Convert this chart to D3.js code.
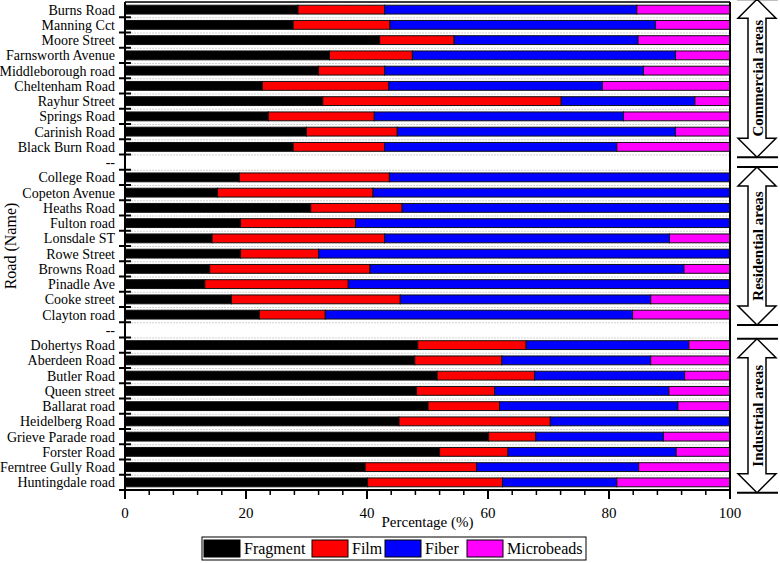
<!DOCTYPE html>
<html>
<head>
<meta charset="utf-8">
<script src="https://d3js.org/d3.v7.min.js"></script>
<style>
  body { margin: 0; background: #fff; }
  text { font-family: "Liberation Serif", "Times New Roman", serif; fill: #000; }
</style>
</head>
<body>
<div id="chart"></div>
<script>
// road names per area (top to bottom)
var commercialRoads = ["Burns Road", "Manning Cct", "Moore Street", "Farnsworth Avenue", "Middleborough road",
  "Cheltenham Road", "Rayhur Street", "Springs Road", "Carinish Road", "Black Burn Road"];
var residentialRoads = ["College Road", "Copeton Avenue", "Heaths Road", "Fulton road", "Lonsdale ST",
  "Rowe Street", "Browns Road", "Pinadle Ave", "Cooke street", "Clayton road"];
var industrialRoads = ["Dohertys Road", "Aberdeen Road", "Butler Road", "Queen street", "Ballarat road",
  "Heidelberg Road", "Grieve Parade road", "Forster Road", "Ferntree Gully Road", "Huntingdale road"];

var areaNames = ["Commercial areas", "Residential areas", "Industrial areas"];
var seriesNames = ["Fragment", "Film", "Fiber", "Microbeads"];
var seriesColors = ["#000000", "#ff0000", "#0000ff", "#ff00ff"];

// percentages, same order as the roads above (commercial, residential, industrial)
var fragment = [28.6, 27.8, 42.1, 33.8, 32.0, 22.7, 32.7, 23.7, 30.0, 27.8,
  18.9, 15.3, 30.7, 19.1, 14.4, 19.1, 14.0, 13.2, 17.6, 22.2,
  48.4, 47.9, 51.6, 48.2, 50.1, 45.3, 60.1, 52.0, 39.7, 40.1];
var film = [14.3, 16.0, 12.3, 13.7, 10.9, 20.9, 39.4, 17.5, 15.0, 15.1,
  24.8, 25.7, 15.1, 19.0, 28.5, 12.9, 26.5, 23.7, 27.9, 10.9,
  17.9, 14.4, 16.1, 12.9, 11.8, 25.0, 7.8, 11.3, 18.4, 22.3];
var fiber = [41.7, 43.9, 30.4, 43.5, 42.8, 35.3, 22.1, 41.2, 46.0, 38.4,
  56.3, 59.0, 54.2, 61.9, 47.1, 68.0, 51.9, 63.1, 41.4, 50.8,
  26.9, 24.6, 24.8, 28.8, 29.5, 29.7, 21.1, 27.8, 26.8, 18.9];
var microbeads = [15.4, 12.3, 15.2, 9.0, 14.3, 21.1, 5.8, 17.6, 9.0, 18.7,
  0, 0, 0, 0, 10.0, 0, 7.6, 0, 13.1, 16.1,
  6.8, 13.1, 7.5, 10.1, 8.6, 0, 11.0, 8.9, 15.1, 18.7];
var xTicks = [0, 20, 40, 60, 80, 100];

var W = 780, H = 563;
var margin = {top: 2, right: 50, bottom: 73, left: 125},
    width = W - margin.left - margin.right,
    height = H - margin.top - margin.bottom;

var svg = d3.select("#chart").append("svg")
    .attr("width", W)
    .attr("height", H);
var g = svg.append("g")
    .attr("transform", "translate(" + margin.left + "," + margin.top + ")");

// rows: the three areas separated by a "--" row
var rows = [];
var groups = [commercialRoads, residentialRoads, industrialRoads];
var k = 0;
groups.forEach(function(list, gi) {
  if (gi > 0) rows.push({key: "sep" + gi, label: "--", data: null});
  list.forEach(function(name) {
    rows.push({key: name, label: name, data: {
      Fragment: fragment[k], Film: film[k], Fiber: fiber[k], Microbeads: microbeads[k]}});
    k++;
  });
});

var x = d3.scaleLinear().domain([0, 100]).range([0, width]);
var y = d3.scaleBand().domain(rows.map(function(d) { return d.key; })).range([0, height]).paddingInner(0.42).paddingOuter(0.21);
var step = y.step();

// dashed light grid lines between rows
g.append("g")
  .selectAll("line")
  .data(d3.range(rows.length + 1))
  .enter().append("line")
    .attr("x1", 0).attr("x2", width)
    .attr("y1", function(i) { return i * step + 0.5; })
    .attr("y2", function(i) { return i * step + 0.5; })
    .attr("stroke", "#d0d0d0")
    .attr("stroke-dasharray", "2,1");

// stacked bars
var stack = d3.stack().keys(seriesNames);
var barRows = rows.filter(function(d) { return d.data; });
var stacked = stack(barRows.map(function(d) { return Object.assign({key: d.key}, d.data); }));

g.append("g").selectAll("g")
  .data(stacked)
  .enter().append("g")
    .attr("fill", function(d, i) { return seriesColors[i]; })
  .selectAll("rect")
  .data(function(d) { return d.filter(function(s) { return s[1] - s[0] > 0; }); })
  .enter().append("rect")
    .attr("x", function(d) { return x(d[0]); })
    .attr("width", function(d) { return x(d[1]) - x(d[0]); })
    .attr("y", function(d) { return y(d.data.key); })
    .attr("height", y.bandwidth())
    .attr("stroke", "#111")
    .attr("stroke-width", 1);

// frame: top and right
g.append("line").attr("x1", 0).attr("x2", width).attr("y1", 0).attr("y2", 0)
  .attr("stroke", "#000").attr("stroke-width", 1.5);
g.append("line").attr("x1", width).attr("x2", width).attr("y1", 0).attr("y2", height)
  .attr("stroke", "#000").attr("stroke-width", 2);

// x axis with minor ticks
var xAxisG = g.append("g").attr("transform", "translate(0," + height + ")");
xAxisG.append("line").attr("x1", 0).attr("x2", width).attr("stroke", "#000").attr("stroke-width", 2);
xAxisG.selectAll(".minor")
  .data(d3.range(0, 101, 4).filter(function(v) { return v % 20 !== 0; }))
  .enter().append("line")
    .attr("x1", function(v) { return x(v); }).attr("x2", function(v) { return x(v); })
    .attr("y1", 0).attr("y2", 5)
    .attr("stroke", "#000").attr("stroke-width", 1.5);
xAxisG.selectAll(".major")
  .data(xTicks)
  .enter().append("line")
    .attr("x1", function(v) { return x(v); }).attr("x2", function(v) { return x(v); })
    .attr("y1", 0).attr("y2", 9)
    .attr("stroke", "#000").attr("stroke-width", 2);
xAxisG.selectAll(".lbl")
  .data(xTicks)
  .enter().append("text")
    .attr("x", function(v) { return x(v); })
    .attr("y", 28)
    .attr("text-anchor", "middle")
    .style("font-size", "15px")
    .text(function(v) { return v; });

g.append("text")
  .attr("x", width / 2)
  .attr("y", height + 37)
  .attr("text-anchor", "middle")
  .style("font-size", "15px")
  .text("Percentage (%)");

// y axis: ticks between rows, crossing the axis
var yAxisG = g.append("g");
yAxisG.append("line").attr("x1", 0).attr("x2", 0).attr("y1", 0).attr("y2", height + 1)
  .attr("stroke", "#000").attr("stroke-width", 2);
yAxisG.selectAll(".tk")
  .data(d3.range(1, rows.length + 1))
  .enter().append("line")
    .attr("x1", -6).attr("x2", 6)
    .attr("y1", function(i) { return i * step; })
    .attr("y2", function(i) { return i * step; })
    .attr("stroke", "#000").attr("stroke-width", 2);
yAxisG.selectAll(".lbl")
  .data(rows)
  .enter().append("text")
    .attr("x", -10)
    .attr("y", function(d) { return y(d.key) + y.bandwidth() / 2; })
    .attr("dy", "0.35em")
    .attr("text-anchor", "end")
    .style("font-size", "14px")
    .text(function(d) { return d.label; });

svg.append("text")
  .attr("transform", "translate(16," + (margin.top + height / 2) + ") rotate(-90)")
  .attr("text-anchor", "middle")
  .style("font-size", "16px")
  .text("Road (Name)");

// area brackets with hollow double arrows on the right
var ax = margin.left + width + 27;
groups.forEach(function(list, gi) {
  var y0 = margin.top + y(list[0]) - (gi === 2 ? 2 : 6),
      y1 = margin.top + y(list[list.length - 1]) + y.bandwidth() + 6;
  [y0, y1].forEach(function(yy) {
    svg.append("line").attr("x1", ax - 20).attr("x2", ax + 21)
      .attr("y1", yy).attr("y2", yy)
      .attr("stroke", "#000").attr("stroke-width", 2);
  });
  var hw = 19, sw = 9, hl = 19;
  var pts = [
    [ax, y0], [ax + hw, y0 + hl], [ax + sw, y0 + hl], [ax + sw, y1 - hl], [ax + hw, y1 - hl],
    [ax, y1], [ax - hw, y1 - hl], [ax - sw, y1 - hl], [ax - sw, y0 + hl], [ax - hw, y0 + hl]
  ];
  svg.append("path")
    .attr("d", d3.line()(pts) + "Z")
    .attr("fill", "#fff")
    .attr("stroke", "#000")
    .attr("stroke-width", 1.5);
  svg.append("text")
    .attr("transform", "translate(" + (ax + 5.5) + "," + ((y0 + y1) / 2) + ") rotate(-90)")
    .attr("text-anchor", "middle")
    .style("font-size", "15px")
    .style("font-weight", "bold")
    .text(areaNames[gi]);
});

// legend
var legend = svg.append("g").attr("transform", "translate(202,537)");
legend.append("rect").attr("width", 384).attr("height", 23)
  .attr("fill", "#fff").attr("stroke", "#000").attr("stroke-width", 1);
var legendX = [2, 110, 183, 265];
seriesNames.forEach(function(name, i) {
  legend.append("rect")
    .attr("x", legendX[i]).attr("y", 3)
    .attr("width", 36).attr("height", 17)
    .attr("fill", seriesColors[i]).attr("stroke", "#000");
  legend.append("text")
    .attr("x", legendX[i] + 40)
    .attr("y", 17)
    .style("font-size", "16px")
    .text(name);
});
</script>
</body>
</html>
